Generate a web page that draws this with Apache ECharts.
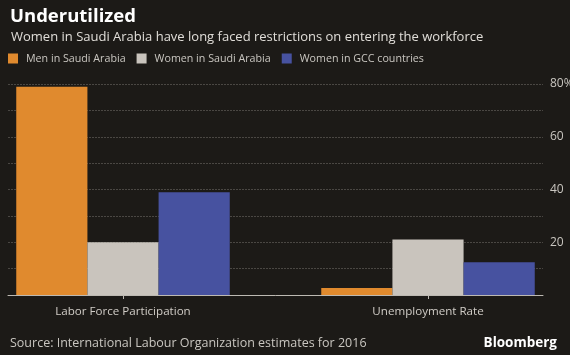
<!DOCTYPE html>
<html><head><meta charset="utf-8">
<script src="https://cdn.jsdelivr.net/npm/echarts@6/dist/echarts.min.js"></script>
<style>html,body{margin:0;padding:0;background:#1c1a17;}#c{width:570px;height:355px;}</style>
</head><body><div id="c"></div>
<script>
const categories = ['Labor Force Participation', 'Unemployment Rate'];
const menSaudi = [79, 2.7];
const womenSaudi = [20, 21];
const womenGCC = [39, 12.4];
const seriesNames = ['Men in Saudi Arabia', 'Women in Saudi Arabia', 'Women in GCC countries'];
const yTicks = [20, 40, 60, 80];

const colors = ['#e08a2e', '#c9c4bd', '#4752a0'];
const font = '"Open Sans", "DejaVu Sans", sans-serif';
const chart = echarts.init(document.getElementById('c'));
const gTop = 84, gBottom = 60;
chart.setOption({
  backgroundColor: '#1c1a17',
  animation: false,
  title: [
    {text: 'Underutilized', left: 5, top: 2, textStyle: {color: '#ffffff', fontSize: 18.5, fontWeight: 'bold', fontFamily: font}},
    {text: 'Women in Saudi Arabia have long faced restrictions on entering the workforce', left: 6, top: 26, textStyle: {color: '#e0ddd8', fontSize: 13, fontWeight: 'normal', fontFamily: font}},
    {text: 'Source: International Labour Organization estimates for 2016', left: 5, top: 332, textStyle: {color: '#c9c6c0', fontSize: 12.5, fontWeight: 'normal', fontFamily: font}},
    {text: 'Bloomberg', right: 8, top: 331, textStyle: {color: '#ffffff', fontSize: 13.5, fontWeight: 'bold', fontFamily: font}}
  ],
  legend: {
    left: 3, top: 48, itemWidth: 10, itemHeight: 10, itemGap: 11,
    icon: 'rect',
    textStyle: {color: '#c9c6c0', fontSize: 10.7, fontFamily: font, padding: [0, 0, 0, 3]},
    data: seriesNames
  },
  grid: [
    {left: 8, right: 27, top: gTop, bottom: gBottom, outerBoundsMode: 'none', containLabel: false},
    {left: -29.5, right: -10.5, top: gTop, bottom: gBottom, outerBoundsMode: 'none', containLabel: false}
  ],
  xAxis: [
    {gridIndex: 0, type: 'category', data: ['a'], axisLine: {show: true, lineStyle: {color: '#bdb9b2', width: 1}}, axisTick: {show: false}, axisLabel: {show: false}},
    {gridIndex: 1, type: 'category', data: categories, axisLine: {show: false},
      axisTick: {show: true, alignWithLabel: true, length: 4, lineStyle: {color: '#bdb9b2'}},
      axisLabel: {color: '#d0ccc6', fontSize: 11.6, fontFamily: font, margin: 11}}
  ],
  yAxis: [
    {gridIndex: 0, type: 'value', min: 0, max: 80, interval: 10, position: 'right',
      axisLine: {show: false}, axisTick: {show: false},
      splitLine: {show: true, lineStyle: {color: '#4a4743', type: [2, 1], width: 1}},
      axisLabel: {color: '#c9c6c0', fontSize: 12, fontFamily: font, margin: 7,
        formatter: v => yTicks.includes(v) ? (v === 80 ? v + '%' : String(v)) : ''}},
    {gridIndex: 1, type: 'value', min: 0, max: 80, interval: 10, show: false}
  ],
  series: [
    {name: seriesNames[0], type: 'bar', xAxisIndex: 1, yAxisIndex: 1, data: menSaudi, itemStyle: {color: colors[0]}, barGap: '0%', barCategoryGap: '30%'},
    {name: seriesNames[1], type: 'bar', xAxisIndex: 1, yAxisIndex: 1, data: womenSaudi, itemStyle: {color: colors[1]}, barGap: '0%', barCategoryGap: '30%'},
    {name: seriesNames[2], type: 'bar', xAxisIndex: 1, yAxisIndex: 1, data: womenGCC, itemStyle: {color: colors[2]}, barGap: '0%', barCategoryGap: '30%'}
  ]
});
</script></body></html>
